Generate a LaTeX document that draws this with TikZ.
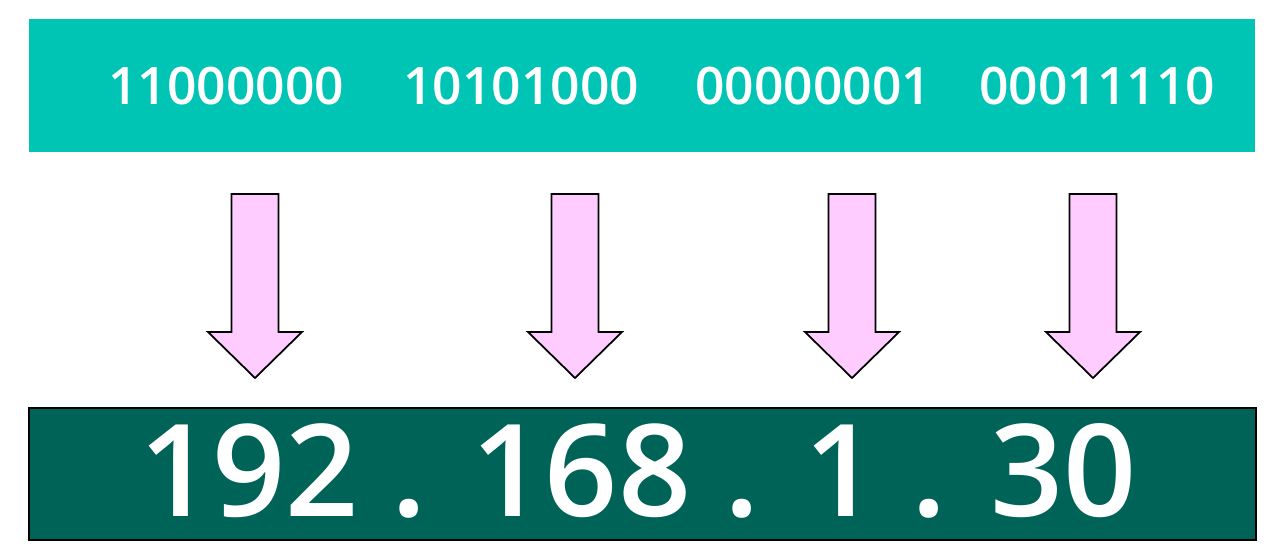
\documentclass[tikz,border=0pt]{standalone}
\usepackage{fontspec}
\setmainfont{Open Sans}
\newfontfamily\digitfont{Open Sans Semibold}
\usepackage{tikz}
\usetikzlibrary{positioning}

\definecolor{barteal}{RGB}{0,196,180}
\definecolor{boxgreen}{RGB}{0,99,88}
\definecolor{arrowpink}{RGB}{255,204,255}

\tikzset{
  bits/.style={text=white, font=\digitfont\fontsize{29.4}{30}\selectfont, inner sep=0pt},
  addr/.style={text=white, font=\digitfont\fontsize{73}{74}\selectfont, inner sep=0pt},
  blockarrow/.style={draw=black, fill=arrowpink, line width=1pt, line join=miter}
}

\begin{document}
\begin{tikzpicture}[x=0.02cm, y=-0.02cm]
        \useasboundingbox (0,0) rectangle (1276,557);
        % Binary bar
        \fill[barteal] (29,19) rectangle (1255,152);
        \node[bits] (b1) at (226,86.5) {11000000};
        \node[bits] (b2) at (521,86.5) {10101000};
        \node[bits] (b3) at (813,86.5) {00000001};
        \node[bits] (b4) at (1097,86.5) {00011110};
        % Down arrows
        \foreach \x in {255,575,852,1093} {
          \draw[blockarrow] (\x-23.5,194) -- (\x+23.5,194) -- (\x+23.5,332)
            -- (\x+47,332) -- (\x,378) -- (\x-47,332) -- (\x-23.5,332) -- cycle;
        }
        % Decimal box
        \draw[fill=boxgreen, line width=1pt] (29,408) rectangle (1256,540);
        \node[addr] (dec) at (638,471) {192 . 168 . 1 . 30};
      \end{tikzpicture}
\end{document}
